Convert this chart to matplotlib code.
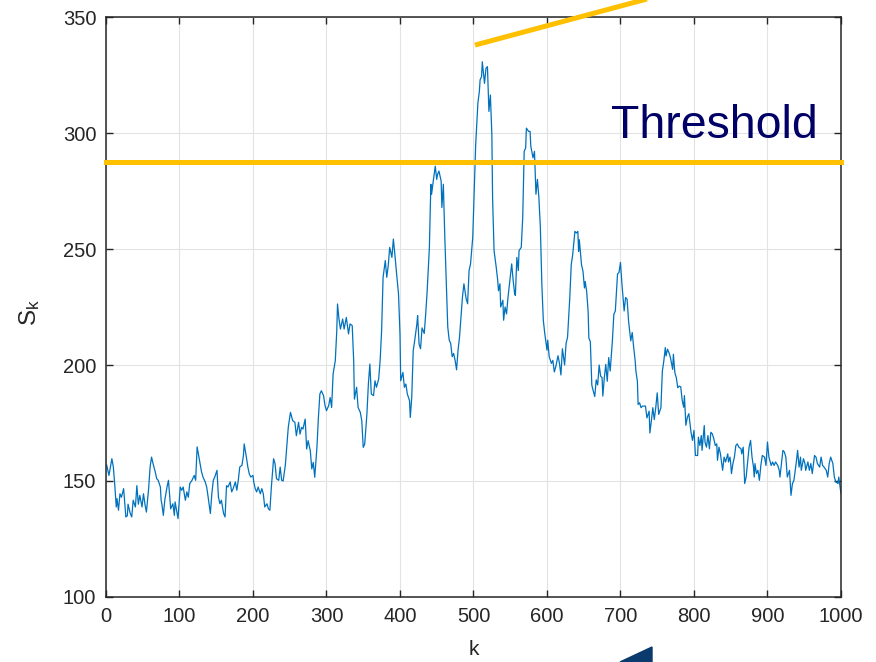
import matplotlib.pyplot as plt
from matplotlib.patches import Polygon

plt.rcParams['font.family'] = ['Liberation Sans', 'DejaVu Sans']
plt.rcParams['mathtext.fontset'] = 'custom'
plt.rcParams['mathtext.rm'] = 'Liberation Sans'

# sample index and statistic S_k
k = [1, 4, 8, 10, 12, 14, 15, 17, 19, 21,
     24, 26, 27, 29, 30, 33, 35, 37, 40, 42,
     44, 46, 49, 51, 53, 55, 58, 60, 62, 64,
     67, 69, 71, 74, 75, 76, 78, 80, 83, 85,
     87, 88, 91, 93, 94, 96, 98, 101, 103, 105,
     108, 110, 112, 114, 117, 120, 122, 124, 126, 128,
     130, 132, 135, 137, 139, 142, 144, 146, 148, 151,
     153, 155, 157, 160, 162, 164, 166, 169, 171, 173,
     176, 178, 180, 182, 185, 187, 188, 191, 193, 195,
     197, 200, 201, 203, 205, 207, 210, 212, 214, 216,
     219, 221, 223, 225, 228, 230, 232, 235, 237, 239,
     241, 244, 246, 248,
     251, 254, 257, 259, 262, 264, 266, 268, 271, 273,
     275, 278, 280, 282, 284, 287, 289, 291, 293, 296,
     298, 300, 303, 305, 307, 309, 312, 314, 315, 317,
     319, 322, 324, 327, 330, 332, 335, 337, 338, 341,
     343, 346, 348, 350, 352, 355, 357, 359, 361, 364,
     366, 368, 371, 373, 375, 377, 380, 382, 384, 386,
     389, 391, 393, 395, 398, 400, 401, 404, 406, 408,
     410, 413, 414, 416, 418, 420, 423, 424, 426, 428,
     430, 433, 435, 437, 440, 442, 443, 445, 448, 450,
     451, 453, 456, 457, 459, 461, 463, 465, 467, 469,
     471, 473, 475, 477, 479, 481, 483, 485, 487, 490,
     492, 494, 496, 499, 501, 503, 506, 508, 509, 511,
     512, 515, 517, 519, 521, 523, 525, 526, 528, 531,
     533, 534, 536, 537, 540, 541, 543, 545, 547, 550,
     552, 554, 556, 557, 559, 561, 562, 565, 567, 569,
     571, 572, 575, 577, 578, 581, 583, 585, 587, 589,
     591, 593, 595, 597, 600, 601, 603, 606, 608, 610,
     612, 615, 617, 619, 621, 624, 626, 628, 631, 633,
     635, 638, 640, 642, 643, 644, 647, 649, 651, 652,
     654, 656, 657, 659, 661, 662, 665, 667, 669, 671,
     673, 675, 676, 678, 680, 682, 684, 686, 689, 691,
     693, 696, 698, 700, 702, 705, 707, 709, 711, 714,
     716, 718, 720, 721, 723, 724, 726, 728, 730, 732,
     734, 736, 739, 740, 742, 744, 746, 748, 750, 752,
     755, 757, 759, 761, 762, 764, 766, 768, 771, 772,
     774, 776, 778, 780, 782, 784, 786, 787, 789, 791,
     793, 796, 798, 800, 802, 805, 806, 808, 810, 811,
     814, 815, 817, 819, 821, 823, 825, 827, 829, 831,
     832, 834, 836, 839, 841, 843, 846, 847, 849, 850,
     851, 853, 855, 857, 859, 861, 864, 865, 867, 869,
     871, 873, 875, 877, 879, 881, 882, 883, 885, 887,
     889, 891, 893, 896, 898, 900, 902, 905, 907, 909,
     911, 914, 916, 917, 919, 921, 923, 925, 927, 930,
     932, 934, 936, 939, 941, 943, 945, 946, 949, 951,
     952, 955, 957, 959, 961, 964, 966, 968, 971, 973,
     975, 977, 980, 982, 984, 986, 989, 991, 993, 996,
     997, 1000]

s = [156.8, 152.4, 159.6, 156.0, 148.0, 138.8, 142.4, 137.4, 144.5, 143.0,
     146.7, 138.8, 134.5, 135.0, 140.0, 136.0, 134.5, 141.7, 138.8, 148.0,
     140.0, 143.8, 138.8, 144.5, 140.0, 136.6, 146.7, 156.0, 160.3, 157.5,
     153.9, 151.0, 150.3, 147.4, 141.7, 140.2, 135.2, 141.7, 147.4, 150.3,
     141.7, 138.0, 140.2, 135.2, 141.0, 137.4, 133.8, 147.4, 146.0, 147.4,
     141.7, 145.3, 143.0, 148.9, 150.3, 152.4, 150.3, 164.7, 161.0, 157.5,
     153.9, 151.7, 149.6, 147.4, 143.0, 136.0, 144.5, 150.3, 151.7, 154.6,
     143.0, 140.2, 141.7, 136.0, 134.5, 148.0, 147.4, 149.6, 145.3, 146.7,
     149.6, 146.0, 150.3, 156.0, 156.8, 161.0, 166.0, 160.3, 156.0, 153.0,
     151.7, 152.4, 149.6, 146.7, 145.3, 147.4, 144.5, 146.7, 144.5, 138.8,
     140.2, 138.0, 137.4, 147.4, 159.6, 157.5, 151.0, 150.3, 156.0, 150.3,
     150.0, 156.8, 165.0, 173.1,
     179.6, 176.0, 175.3, 169.5, 175.3, 170.2, 173.1, 172.4, 176.7, 163.8,
     167.4, 163.0, 155.2, 158.0, 151.6, 164.5, 177.4, 187.5, 188.9, 186.8,
     182.5, 180.3, 182.5, 186.0, 181.7, 196.1, 201.9, 214.8, 226.3, 219.8,
     215.5, 219.8, 215.5, 220.5, 213.4, 217.7, 217.0, 201.9, 185.3, 190.4,
     181.7, 179.6, 176.0, 164.5, 165.9, 178.9, 191.8, 200.4, 187.5, 186.8,
     193.2, 190.4, 194.0, 201.9, 214.8, 237.8, 245.0, 237.8, 242.8, 250.7,
     246.4, 254.3, 247.8, 240.7, 230.6, 213.4, 193.2, 196.8, 190.4, 191.8,
     187.5, 184.6, 177.4, 186.0, 206.2, 210.5, 217.7, 221.3, 209.0, 207.0,
     216.0, 213.6, 222.0, 232.0, 250.7, 277.9, 273.6, 278.6, 285.7, 280.0,
     282.0, 283.6, 279.3, 267.9, 277.9, 255.0, 235.0, 216.4, 210.7, 209.3,
     203.6, 205.0, 202.0, 197.9, 206.4, 212.0, 220.7, 229.3, 235.0, 228.6,
     226.4, 240.7, 243.6, 255.0, 275.0, 295.0, 312.9, 317.9, 322.9, 324.3,
     330.7, 321.4, 327.9, 328.6, 309.3, 316.4, 299.3, 272.0, 249.3, 242.0,
     236.4, 232.0, 235.0, 225.0, 227.9, 219.3, 225.0, 222.0, 229.3, 237.9,
     243.6, 236.4, 230.7, 230.0, 246.4, 240.7, 249.3, 250.7, 263.6, 292.1,
     293.6, 302.1, 300.7, 300.7, 294.3, 289.3, 292.1, 273.6, 280.0, 272.1,
     259.3, 235.0, 219.3, 213.6, 206.4, 210.7, 203.6, 200.7, 202.0, 197.0,
     199.3, 204.0, 200.7, 195.7, 207.0, 200.0, 209.3, 212.0, 228.8, 243.2,
     247.6, 257.6, 256.9, 257.6, 249.0, 254.0, 243.2, 240.4, 233.2, 236.0,
     231.7, 223.0, 211.6, 210.1, 191.4, 190.0, 186.4, 193.6, 191.4, 200.0,
     195.2, 194.5, 186.6, 194.5, 200.3, 193.0, 203.2, 197.4, 210.4, 221.9,
     223.3, 239.2, 239.9, 244.2, 234.9, 223.3, 229.1, 228.4, 219.0, 210.4,
     214.0, 207.5, 201.8, 197.4, 193.0, 183.0, 183.7, 181.6, 182.3, 182.3,
     182.3, 177.2, 180.1, 170.7, 175.8, 181.6, 176.5, 181.6, 188.0, 178.7,
     181.6, 197.4, 201.8, 207.5, 203.9, 206.8, 205.3, 203.2, 198.1, 204.6,
     196.7, 194.5, 190.2, 190.9, 190.6, 184.7, 181.8, 186.8, 174.0, 177.5,
     179.0, 171.0, 167.5, 171.8, 161.0, 161.0, 168.9, 165.3, 169.6, 163.2,
     173.9, 166.8, 164.6, 169.6, 163.9, 171.0, 170.3, 168.2, 165.3, 166.0,
     158.9, 164.6, 161.7, 154.6, 160.3, 158.2, 161.7, 158.2, 160.3, 157.5,
     153.2, 157.5, 160.3, 165.3, 166.0, 164.6, 163.9, 161.7, 164.6, 148.9,
     151.7, 158.2, 164.6, 167.5, 160.3, 156.0, 151.7, 157.5, 153.2, 154.6,
     150.3, 156.7, 161.0, 160.3, 156.7, 166.8, 160.3, 156.7, 158.2, 156.7,
     158.2, 156.7, 154.6, 151.7, 157.5, 163.2, 162.5, 160.3, 151.7, 154.6,
     143.8, 148.9, 150.3, 157.5, 163.2, 156.0, 160.3, 154.6, 159.6, 157.5,
     154.6, 158.2, 154.6, 157.5, 153.2, 161.0, 160.3, 157.5, 156.0, 160.3,
     156.7, 156.0, 154.6, 151.7, 157.5, 160.3, 157.5, 151.7, 149.6, 148.9,
     151.7, 144.6]

threshold = 287.5
# rising guide line, start and end points (k, S)
trend_k = [502, 780]
trend_s = [337.9, 361.5]

x_ticks = list(range(0, 1001, 100))
y_ticks = list(range(100, 351, 50))

fig = plt.figure(figsize=(8.76, 6.62), dpi=100)
ax = fig.add_axes([0.1210, 0.0982, 0.8390, 0.8761])

ax.plot(k, s, color='#0072BD', lw=0.9)
ax.plot([0, 1000], [threshold, threshold], color='#FFC000', lw=3.6,
        solid_capstyle='projecting', clip_on=False, zorder=3)
ax.plot(trend_k, trend_s, color='#FFC000', lw=3.6,
        solid_capstyle='butt', clip_on=False, zorder=3)

ax.text(968, 297.8, 'Threshold', ha='right', va='baseline',
        fontsize=33.5, color='#000066')

ax.set_xlim(0, 1000)
ax.set_ylim(100, 350)
ax.set_xticks(x_ticks)
ax.set_yticks(y_ticks)
ax.tick_params(direction='in', top=True, right=True, length=5, width=1,
               colors='#262626', labelsize=14.5, pad=7)
ax.grid(True, color='#e3e3e3', lw=0.8)
ax.set_axisbelow(True)
for sp in ax.spines.values():
    sp.set_color('#262626')
    sp.set_linewidth(1.1)

ax.set_xlabel('k', fontsize=15, color='#262626', va='top')
ax.xaxis.set_label_coords(0.5, -0.075)
ax.set_ylabel(r'$\mathregular{S_k}$', fontsize=17.5, color='#262626')
ax.yaxis.set_label_coords(-0.087, 0.49)

# dark corner marker at the bottom edge
fig.patches.append(Polygon([[620 / 876, 0], [652 / 876, 15 / 662], [652 / 876, 0]],
                           closed=True, transform=fig.transFigure,
                           color='#0a3a6e'))

fig.savefig('out.png', dpi=100)
